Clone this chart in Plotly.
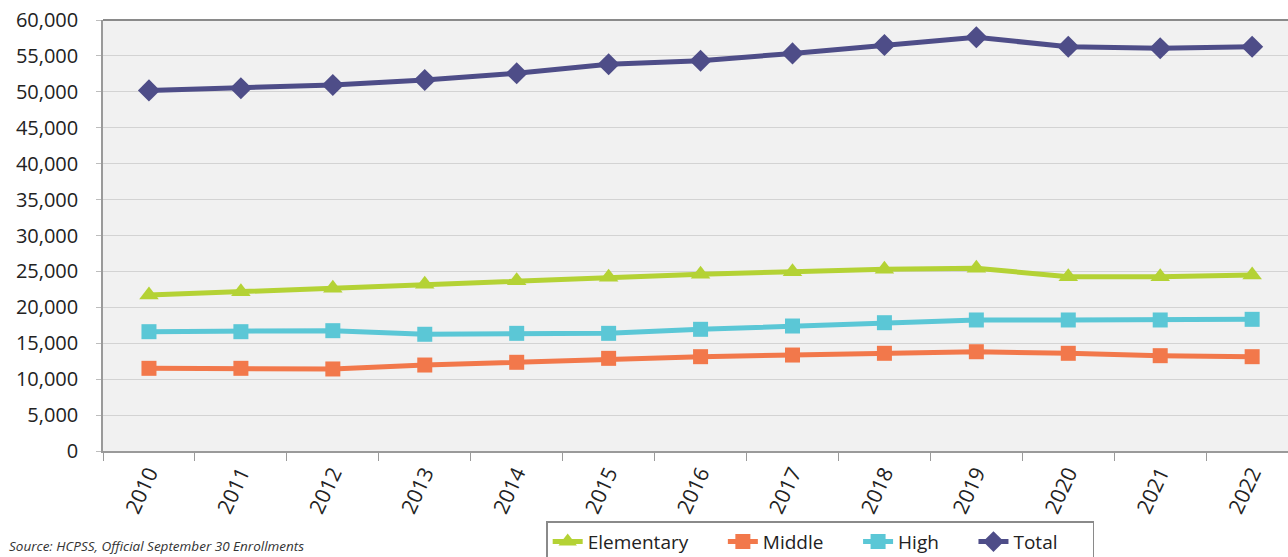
import plotly.graph_objects as go

years = ["2010", "2011", "2012", "2013", "2014", "2015", "2016", "2017", "2018", "2019", "2020", "2021", "2022"]
elementary = [21700, 22180, 22650, 23200, 23710, 24180, 24600, 24960, 25290, 25430, 24270, 24270, 24500]
middle = [11510, 11510, 11420, 11970, 12350, 12900, 13130, 13360, 13600, 13820, 13600, 13270, 13130]
high = [16610, 16610, 16750, 16250, 16380, 16380, 16940, 17400, 17860, 18240, 18240, 18240, 18330]
total = [50200, 50490, 50950, 51650, 52580, 53830, 54330, 55350, 56520, 57590, 56280, 56060, 56280]

series = [
    ("Elementary", elementary, "#b4d235", "triangle-up", 17),
    ("Middle", middle, "#f2784b", "square", 15),
    ("High", high, "#5bc7d6", "square", 15),
    ("Total", total, "#4e4d88", "diamond", 17),
]

pad = "\u00a0" * 6
fig = go.Figure()
for name, vals, color, sym, size in series:
    fig.add_trace(go.Scatter(
        x=years, y=vals, name=name + pad, mode="lines+markers",
        line=dict(color=color, width=5),
        marker=dict(symbol=sym, size=size, color=color),
    ))

font_family = "Open Sans, Noto Sans, sans-serif"
fig.update_layout(
    width=1288, height=557,
    margin=dict(l=103, r=0, t=20, b=106, autoexpand=False),
    paper_bgcolor="white",
    plot_bgcolor="#f1f1f1",
    font=dict(family=font_family, color="#222222", size=19),
    showlegend=True,
    legend=dict(
        orientation="h", x=0.374, y=-0.163, xanchor="left", yanchor="top",
        bordercolor="#8a8a8a", borderwidth=1.5, bgcolor="white",
        font=dict(size=19, family=font_family),
        tracegroupgap=0,
    ),
    xaxis=dict(
        type="category", range=[-0.5, 12.39],
        tickangle=-65, tickfont=dict(size=21, family=font_family),
        tickson="boundaries", ticks="outside", ticklen=8, tickcolor="#9a9a9a",
        showline=True, linecolor="#9a9a9a", linewidth=1.5,
        showgrid=False, zeroline=False,
    ),
    yaxis=dict(
        range=[0, 60000], dtick=5000, tickformat=",",
        tickfont=dict(size=20, family=font_family),
        ticks="outside", ticklen=5, tickcolor="#bdbdbd",
        ticklabelstandoff=14,
        showgrid=True, gridcolor="#d3d3d3", gridwidth=1.2,
        showline=True, linecolor="#9a9a9a", linewidth=1.5,
        zeroline=False,
    ),
    shapes=[dict(type="line", xref="paper", yref="paper", x0=0, x1=1, y0=1, y1=1,
                 line=dict(color="#8a8a8a", width=2))],
    annotations=[dict(
        text="<i>Source: HCPSS, Official September 30 Enrollments</i>",
        xref="paper", yref="paper", x=-0.081, y=-0.22, xanchor="left", yanchor="middle",
        showarrow=False, font=dict(size=13.5, family=font_family, color="#333333"),
    )],
)

fig.write_html("out.html")
